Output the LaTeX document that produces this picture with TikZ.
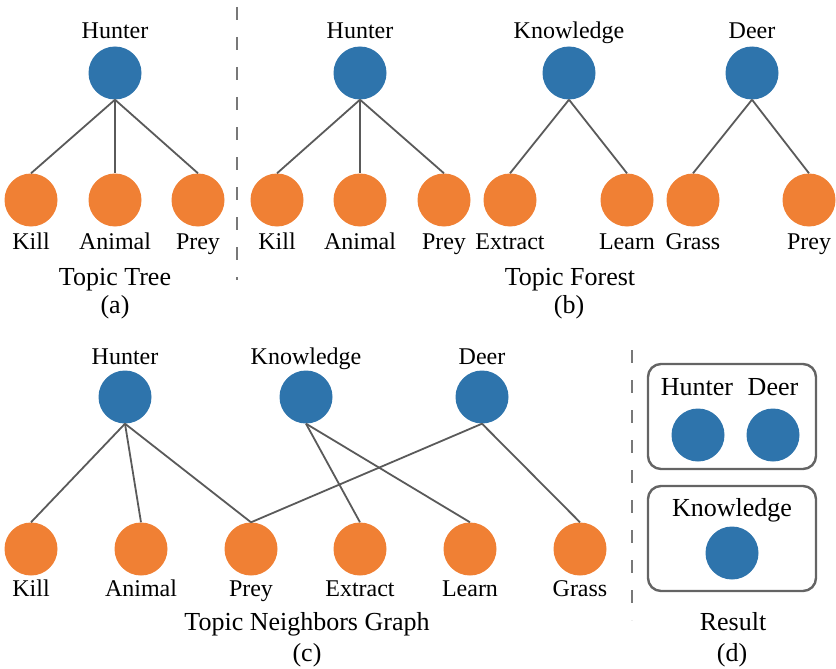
\documentclass[tikz,border=0pt]{standalone}
\usepackage{fontspec}
\setmainfont{Liberation Serif}
\newfontfamily\labelface{Liberation Serif}
\definecolor{topicblue}{RGB}{46,116,172}
\definecolor{wordorange}{RGB}{240,128,52}
\definecolor{edgegray}{RGB}{90,90,90}
\definecolor{sepgray}{RGB}{120,120,120}
\definecolor{boxgray}{RGB}{100,100,100}
\tikzset{
  topic/.style={circle, fill=topicblue, minimum size=53pt, inner sep=0pt},
  word/.style={circle, fill=wordorange, minimum size=53pt, inner sep=0pt},
  lbl/.style={anchor=base, inner sep=0pt, font=\labelface\fontsize{24}{28}\selectfont},
  boxlbl/.style={anchor=base, inner sep=0pt, font=\labelface\fontsize{26}{30}\selectfont},
  captext/.style={anchor=base, inner sep=0pt, font=\labelface\fontsize{26}{30}\selectfont},
  link/.style={draw=edgegray, line width=1.8pt},
  separator/.style={draw=sepgray, line width=2.6pt, dash pattern=on 13pt off 17pt},
  group/.style={draw=boxgray, line width=2.4pt, rounded corners=13pt}
}
\begin{document}
\begin{tikzpicture}[x=1pt, y=-1pt]
\useasboundingbox (0,0) rectangle (836,669);

% ---------- (a) Topic Tree ----------
\node[topic] (aH) at (115,73) {};
\node[word] (aK) at (31,200) {};
\node[word] (aA) at (115,200) {};
\node[word] (aP) at (198,200) {};
\node[lbl] (aHl) at (115,39) {Hunter};
\node[lbl] (aKl) at (31,249) {Kill};
\node[lbl] (aAl) at (115,249) {Animal};
\node[lbl] (aPl) at (198,249) {Prey};
\draw[link] (aH.south) -- (aK.north);
\draw[link] (aH.south) -- (aA.north);
\draw[link] (aH.south) -- (aP.north);
\node[captext] (acap) at (115,285) {Topic Tree};
\node[captext] (atag) at (115,313) {(a)};

% separator between (a) and (b)
\coordinate (s1a) at (237,7);
\coordinate (s1b) at (237,280);
\draw[separator] (s1a) -- (s1b);

% ---------- (b) Topic Forest ----------
\node[topic] (bH) at (360,73) {};
\node[word] (bK) at (277,200) {};
\node[word] (bA) at (360,200) {};
\node[word] (bP) at (444,200) {};
\node[lbl] (bHl) at (360,39) {Hunter};
\node[lbl] (bKl) at (277,249) {Kill};
\node[lbl] (bAl) at (360,249) {Animal};
\node[lbl] (bPl) at (444,249) {Prey};
\draw[link] (bH.south) -- (bK.north);
\draw[link] (bH.south) -- (bA.north);
\draw[link] (bH.south) -- (bP.north);

\node[topic] (bN) at (569,73) {};
\node[word] (bE) at (510,200) {};
\node[word] (bL) at (627,200) {};
\node[lbl] (bNl) at (569,39) {Knowledge};
\node[lbl] (bEl) at (510,249) {Extract};
\node[lbl] (bLl) at (627,249) {Learn};
\draw[link] (bN.south) -- (bE.north);
\draw[link] (bN.south) -- (bL.north);

\node[topic] (bD) at (752,73) {};
\node[word] (bG) at (693,200) {};
\node[word] (bQ) at (809,200) {};
\node[lbl] (bDl) at (752,39) {Deer};
\node[lbl] (bGl) at (693,249) {Grass};
\node[lbl] (bQl) at (809,249) {Prey};
\draw[link] (bD.south) -- (bG.north);
\draw[link] (bD.south) -- (bQ.north);

\node[captext] (bcap) at (570,285) {Topic Forest};
\node[captext] (btag) at (569,313) {(b)};

% ---------- (c) Topic Neighbors Graph ----------
\node[topic] (cH) at (125,397) {};
\node[topic] (cN) at (306,397) {};
\node[topic] (cD) at (482,397) {};
\node[lbl] (cHl) at (125,364) {Hunter};
\node[lbl] (cNl) at (306,364) {Knowledge};
\node[lbl] (cDl) at (482,364) {Deer};

\node[word] (cK) at (31,549) {};
\node[word] (cA) at (141,549) {};
\node[word] (cP) at (251,549) {};
\node[word] (cE) at (360,549) {};
\node[word] (cL) at (470,549) {};
\node[word] (cG) at (580,549) {};
\node[lbl] (cKl) at (31,596) {Kill};
\node[lbl] (cAl) at (141,596) {Animal};
\node[lbl] (cPl) at (251,596) {Prey};
\node[lbl] (cEl) at (360,596) {Extract};
\node[lbl] (cLl) at (470,596) {Learn};
\node[lbl] (cGl) at (580,596) {Grass};

\draw[link] (cH.south) -- (cK.north);
\draw[link] (cH.south) -- (cA.north);
\draw[link] (cH.south) -- (cP.north);
\draw[link] (cN.south) -- (cE.north);
\draw[link] (cN.south) -- (cL.north);
\draw[link] (cD.south) -- (cP.north);
\draw[link] (cD.south) -- (cG.north);

\node[captext] (ccap) at (307,630) {Topic Neighbors Graph};
\node[captext] (ctag) at (307,661) {(c)};

% separator between (c) and (d)
\coordinate (s2a) at (632,350);
\coordinate (s2b) at (632,620);
\draw[separator] (s2a) -- (s2b);

% ---------- (d) Result ----------
\node[group, minimum width=168pt, minimum height=105pt] (g1) at (732,416.5) {};
\node[group, minimum width=168pt, minimum height=105pt] (g2) at (732,538.5) {};
\node[topic] (dH) at (698,435) {};
\node[topic] (dD) at (773,435) {};
\node[topic] (dN) at (732,553) {};
\node[boxlbl] (dHl) at (697,395) {Hunter};
\node[boxlbl] (dDl) at (773,395) {Deer};
\node[boxlbl] (dNl) at (732,516) {Knowledge};

\node[captext] (dcap) at (733,630) {Result};
\node[captext] (dtag) at (732,661) {(d)};
\end{tikzpicture}
\end{document}
